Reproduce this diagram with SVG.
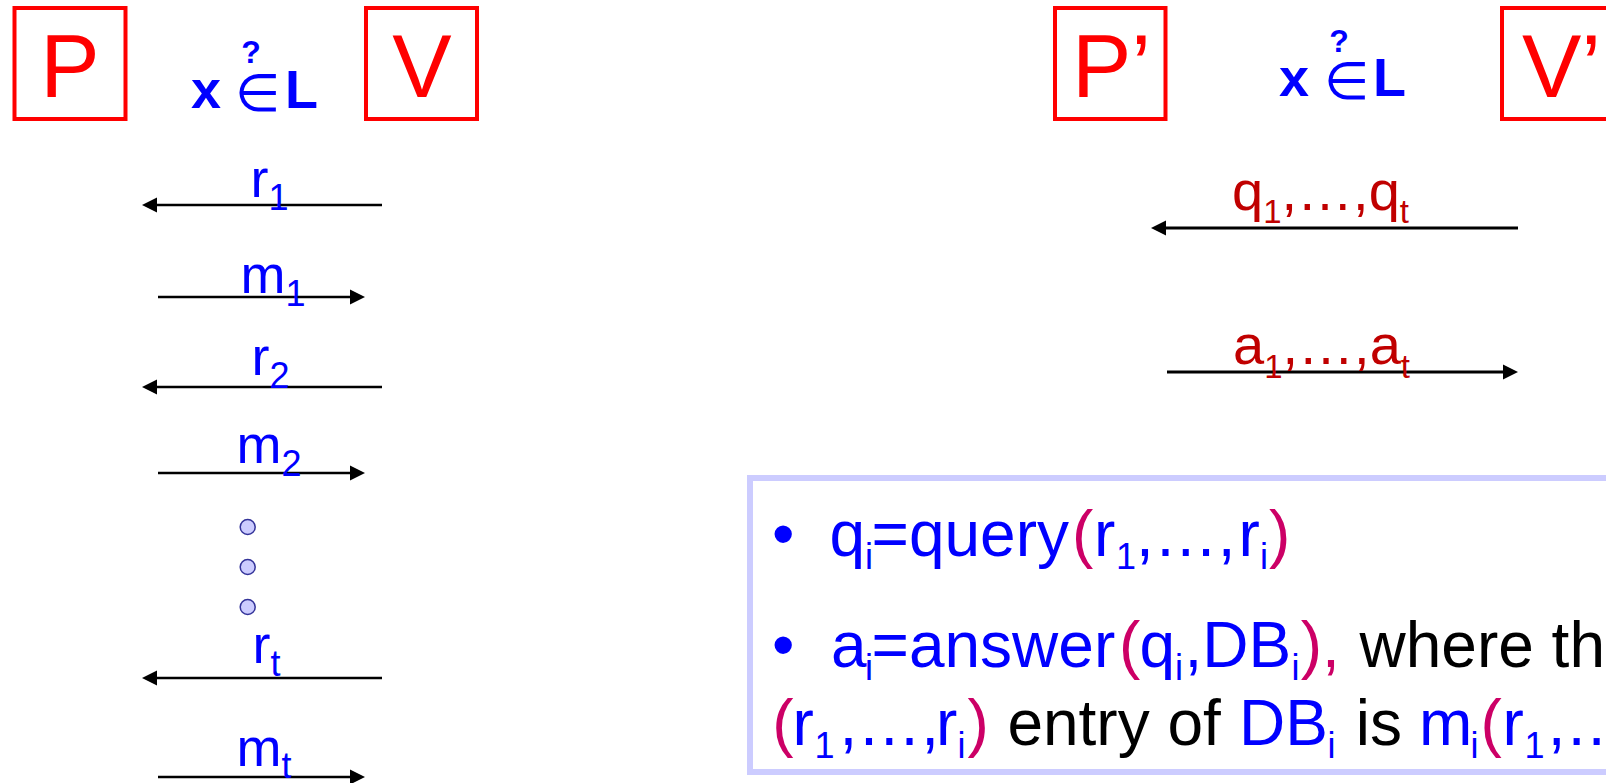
<svg xmlns="http://www.w3.org/2000/svg" width="1606" height="783" viewBox="0 0 1606 783">
  <style>
    .box { fill: none; stroke: #ff0000; stroke-width: 4; }
    .party { font-family: "Liberation Sans", Arial, sans-serif; font-size: 89px; fill: #ff0000; }
    .bold { font-family: "Liberation Sans", Arial, sans-serif; font-weight: bold; fill: #0000ff; }
    .elem { font-family: "DejaVu Sans", sans-serif; font-weight: 200; font-size: 52px; fill: #0000ff; }
    .lbl { font-family: "Liberation Sans", Arial, sans-serif; font-size: 54px; fill: #0000ff; }
    .lblr { font-family: "Liberation Sans", Arial, sans-serif; font-size: 56px; fill: #c00000; }
    .arrL { stroke: #000; stroke-width: 2.5; fill: none; }
    .arrR { stroke: #000; stroke-width: 3; fill: none; }
    .dot { fill: #ccccff; stroke: #333399; stroke-width: 1.5; }
    .txt { font-family: "Liberation Sans", Arial, sans-serif; font-size: 64px; }
    .b { fill: #0000ff; }
    .m { fill: #cc0066; }
    .k { fill: #000000; }
  </style>
  <defs>
    <marker id="ah" markerUnits="userSpaceOnUse" markerWidth="15" markerHeight="15" refX="0" refY="7.5" orient="auto" overflow="visible">
      <path d="M0,0 L15,7.5 L0,15 z" fill="#000"/>
    </marker>
  </defs>

  <g id="node-P">
    <rect class="box" x="14.5" y="8" width="111" height="111"/>
    <text class="party" x="70" y="97" text-anchor="middle">P</text>
  </g>
  <g id="node-V">
    <rect class="box" x="366" y="8" width="111" height="111"/>
    <text class="party" x="422" y="97" text-anchor="middle">V</text>
  </g>
  <g id="node-xinL-left">
    <text class="bold" x="251" y="63" font-size="32" text-anchor="middle">?</text>
    <text class="bold" x="191" y="108" font-size="54">x</text>
    <text class="elem" x="235" y="111">∈</text>
    <text class="bold" x="285" y="108" font-size="54">L</text>
  </g>

  <g id="node-Pp">
    <rect class="box" x="1055" y="8" width="110.5" height="111"/>
    <text class="party" x="1072" y="97">P’</text>
  </g>
  <g id="node-Vp">
    <rect class="box" x="1502" y="8" width="111" height="111"/>
    <text class="party" x="1522" y="97">V’</text>
  </g>
  <g id="node-xinL-right">
    <text class="bold" x="1339" y="52" font-size="32" text-anchor="middle">?</text>
    <text class="bold" x="1279" y="96" font-size="54">x</text>
    <text class="elem" x="1324" y="99">∈</text>
    <text class="bold" x="1373" y="96" font-size="54">L</text>
  </g>

  <g id="connectors">
    <path class="arrL" d="M382,205 H157" marker-end="url(#ah)"/>
    <path class="arrL" d="M158,297 H350" marker-end="url(#ah)"/>
    <path class="arrL" d="M382,387 H157" marker-end="url(#ah)"/>
    <path class="arrL" d="M158,473 H350" marker-end="url(#ah)"/>
    <path class="arrL" d="M382,678 H157" marker-end="url(#ah)"/>
    <path class="arrL" d="M158,777 H350" marker-end="url(#ah)"/>
    <path class="arrR" d="M1518,228 H1166" marker-end="url(#ah)"/>
    <path class="arrR" d="M1167,372 H1503" marker-end="url(#ah)"/>
  </g>

  <g id="connector-labels">
    <text class="lbl" x="250.5" y="197">r<tspan font-size="36" dy="13">1</tspan></text>
    <text class="lbl" x="240.5" y="293">m<tspan font-size="36" dy="13">1</tspan></text>
    <text class="lbl" x="251.5" y="375">r<tspan font-size="36" dy="13">2</tspan></text>
    <text class="lbl" x="236.5" y="463">m<tspan font-size="36" dy="13">2</tspan></text>
    <text class="lbl" x="252.5" y="663">r<tspan font-size="36" dy="13">t</tspan></text>
    <text class="lbl" x="236.5" y="766">m<tspan font-size="36" dy="12">t</tspan></text>
    <text class="lblr" x="1232" y="210">q<tspan font-size="33" dy="13">1</tspan><tspan dy="-13">,…,q</tspan><tspan font-size="33" dy="13">t</tspan></text>
    <text class="lblr" x="1233" y="364">a<tspan font-size="33" dy="14">1</tspan><tspan dy="-14">,…,a</tspan><tspan font-size="33" dy="14">t</tspan></text>
  </g>

  <g id="ellipsis-dots">
    <circle class="dot" cx="247.7" cy="527" r="7.5"/>
    <circle class="dot" cx="247.7" cy="567" r="7.5"/>
    <circle class="dot" cx="247.7" cy="607" r="7.5"/>
  </g>

  <g id="node-definitions">
    <path d="M1606,478 H750 V772 H1606" fill="#ffffff" stroke="#ccccff" stroke-width="6"/>
    <text class="txt b" x="772" y="556">•</text>
    <text class="txt" y="556"><tspan class="b" x="829.5">q</tspan><tspan class="b" x="865" dy="13" font-size="36">i</tspan><tspan class="b" x="871.5" dy="-13">=query</tspan><tspan class="m" x="1072">(</tspan><tspan class="b" x="1094">r</tspan><tspan class="b" x="1116" dy="13" font-size="36">1</tspan><tspan class="b" x="1136" dy="-13">,…,</tspan><tspan class="b" x="1238.5">r</tspan><tspan class="b" x="1260" dy="13" font-size="36">i</tspan><tspan class="m" x="1269" dy="-13">)</tspan></text>

    <text class="txt b" x="772" y="667">•</text>
    <text class="txt" y="667"><tspan class="b" x="831">a</tspan><tspan class="b" x="865" dy="13" font-size="36">i</tspan><tspan class="b" x="871.5" dy="-13">=answer</tspan><tspan class="m" x="1119">(</tspan><tspan class="b" x="1139.5">q</tspan><tspan class="b" x="1175" dy="13" font-size="36">i</tspan><tspan class="b" x="1184.5" dy="-13">,DB</tspan><tspan class="b" x="1291.5" dy="13" font-size="36">i</tspan><tspan class="m" x="1300.7" dy="-13">),</tspan><tspan class="k" x="1359.5">where th</tspan></text>

    <text class="txt" y="745"><tspan class="m" x="772.2">(</tspan><tspan class="b" x="792.5">r</tspan><tspan class="b" x="814.5" dy="13" font-size="36">1</tspan><tspan class="b" x="839.4" dy="-13">,…,</tspan><tspan class="b" x="936">r</tspan><tspan class="b" x="957.5" dy="13" font-size="36">i</tspan><tspan class="m" x="967.4" dy="-13">)</tspan><tspan class="k" x="1007.4">entry of</tspan><tspan class="b" x="1239">DB</tspan><tspan class="b" x="1327.5" dy="13" font-size="36">i</tspan><tspan class="k" x="1355.7" dy="-13">is</tspan><tspan class="b" x="1419">m</tspan><tspan class="b" x="1470.5" dy="13" font-size="36">i</tspan><tspan class="m" x="1480.5" dy="-13">(</tspan><tspan class="b" x="1502.5">r</tspan><tspan class="b" x="1524.5" dy="13" font-size="36">1</tspan><tspan class="b" x="1547.7 1567.7 1587.7" dy="-13">,..</tspan></text>
  </g>
</svg>
